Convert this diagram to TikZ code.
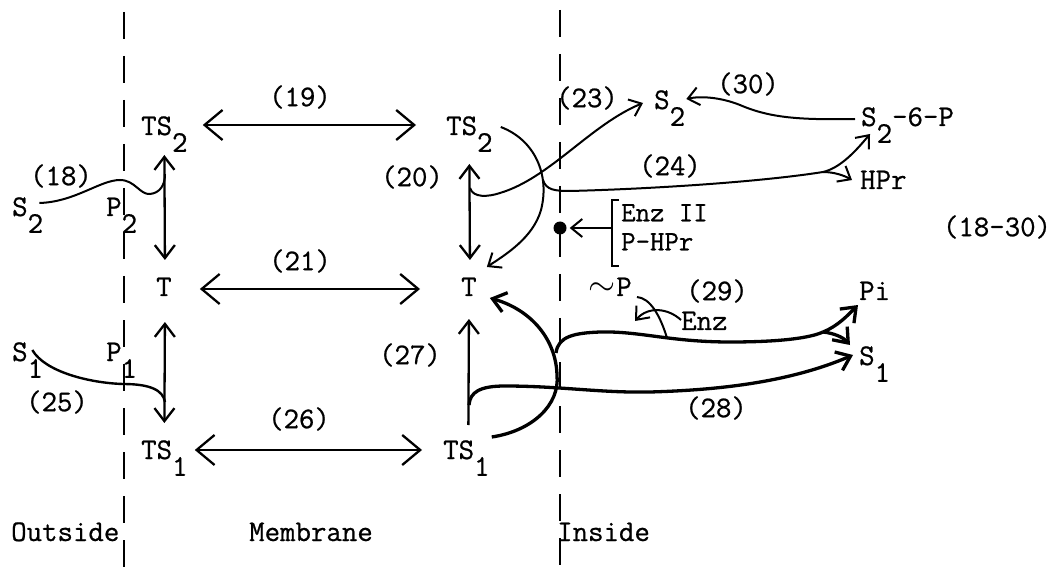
\documentclass[tikz,border=0pt]{standalone}
\usepackage{fontspec}
\setmainfont{Latin Modern Mono}[FakeBold=0.7]
\usetikzlibrary{arrows.meta}
\newcommand\dsub[1]{\raisebox{-.56em}[0pt][0pt]{#1}}
\tikzset{
  txt/.style={inner sep=0pt, anchor=base west},
  lbl/.style={inner sep=0pt},
  wall/.style={line width=1.8pt, dash pattern=on 27pt off 17pt},
  dbl/.style={{Straight Barb[length=18pt,width=30pt]}-{Straight Barb[length=18pt,width=30pt]}, line width=2.3pt},
  vdbl/.style={{Straight Barb[length=13pt,width=20pt]}-{Straight Barb[length=13pt,width=20pt]}, line width=2.3pt},
  vup/.style={-{Straight Barb[length=13pt,width=20pt]}, line width=2.3pt},
  thin/.style={line width=2pt},
  flow/.style={-{Straight Barb[length=11pt,width=18pt]}, line width=2pt},
  heavy/.style={-{Straight Barb[length=13pt,width=20pt]}, line width=3.3pt},
  dot/.style={circle, fill, inner sep=0pt, minimum size=13pt},
}

\begin{document}
\begin{tikzpicture}[x=1pt, y=-1pt, font=\fontsize{30}{34}\selectfont]
  \useasboundingbox (0,0) rectangle (1052,569);
  % membrane walls
  \draw[wall] (124,12) -- (124,569);
  \draw[wall] (560,10) -- (560,569);

  % outside
  \node[txt] (s2out) at (12,216)  {S\dsub{2}};
  \node[txt] (p2)    at (106,216) {P\dsub{2}};
  \node[txt] (s1out) at (12,361)  {S\dsub{1}};
  \node[txt] (p1)    at (106,361) {P\dsub{1}};
  % membrane
  \node[txt] (tsA) at (141,135) {TS\dsub{2}};
  \node[txt] (tsB) at (446,135) {TS\dsub{2}};
  \node[txt] (tA)  at (156,296) {T};
  \node[txt] (tB)  at (461,296) {T};
  \node[txt] (tsC) at (141,459) {TS\dsub{1}};
  \node[txt] (tsD) at (443,459) {TS\dsub{1}};
  % inside
  \node[txt] (s2in)  at (654,109) {S\dsub{2}};
  \node[txt] (s2p)   at (861,126) {S\dsub{2}-6-P};
  \node[txt] (hpr)   at (860,189) {HPr};
  \node[inner sep=0pt, anchor=north west, align=left,
        font=\fontsize{28}{29}\selectfont] (enzii) at (621,204) {Enz II\\P-HPr};
  \node[dot] (dot)   at (560,228) {};
  \node[txt] (tp)    at (588,296) {\scalebox{1.4}{$\sim$}\kern1pt P};
  \node[txt] (enz)   at (681,330) {Enz};
  \node[txt] (pi)    at (859,300) {Pi};
  \node[txt] (s1in)  at (859,365) {S\dsub{1}};

  % reaction numbers
  \node[lbl] (l18) at (61,176)  {(18)};
  \node[lbl] (l19) at (300,97)  {(19)};
  \node[lbl] (l20) at (412,177) {(20)};
  \node[lbl] (l21) at (300,261) {(21)};
  \node[lbl] (l23) at (587,98)  {(23)};
  \node[lbl] (l24) at (670,166) {(24)};
  \node[lbl] (l25) at (57,402)  {(25)};
  \node[lbl] (l26) at (299,419) {(26)};
  \node[lbl] (l27) at (410,355) {(27)};
  \node[lbl] (l28) at (716,408) {(28)};
  \node[lbl] (l29) at (717,291) {(29)};
  \node[lbl] (l30) at (748,84)  {(30)};
  \node[lbl] (lall) at (997,227) {(18-30)};
  \node[txt] (out) at (11,541)  {Outside};
  \node[txt] (mem) at (249,541) {Membrane};
  \node[txt] (ins) at (557,541) {Inside};

  % branch points
  \coordinate (j18) at (165,174);
  \coordinate (j25) at (165,402);
  \coordinate (j20) at (470,188);
  \coordinate (j27) at (469,405);
  \coordinate (j24) at (543,180);
  \coordinate (j29) at (556,353);
  \coordinate (b24) at (823,172);
  \coordinate (b29) at (823,332);
  \coordinate (k29) at (667,338);

  % carrier moves across membrane
  \draw[dbl] ([shift={(15,-10)}]tsA.base east) -- ([shift={(-30,-10)}]tsB.base west);
  \draw[dbl] ([shift={(28,-7)}]tA.base east) -- ([shift={(-41,-7)}]tB.base west);
  \draw[dbl] ([shift={(7,-9)}]tsC.base east) -- ([shift={(-21,-9)}]tsD.base west);
  \draw[vdbl] ([shift={(0,20)}]tsA.base) -- ([shift={(1,-36)}]tA.base);
  \draw[vdbl] ([shift={(0,29)}]tsB.base) -- ([shift={(1,-36)}]tB.base);
  \draw[vdbl] ([shift={(1,26)}]tA.base) -- ([shift={(0,-36)}]tsC.base);
  \draw[vup] ([shift={(2,-34)}]tsD.base) -- ([shift={(0,23)}]tB.base);

  % outside substrates
  \draw[thin] ([shift={(-4,-13)}]s2out.base east) .. controls (75,202) and (100,180) .. (120,180)
    .. controls (135,180) and (140,195) .. (150,194) .. controls (160,193) and (165,185) .. (j18);
  \draw[line width=2.4pt] ([shift={(-11,-11)}]s1out.base east) .. controls (45,372) and (90,383) .. (123,384)
    .. controls (150,384) and (163,390) .. (j25);

  % inside, sugar 2
  \draw[flow] ([shift={(8,-8)}]tsB.base east) .. controls (535,140) and (550,175) .. (541,210)
    .. controls (533,238) and (505,255) .. ([shift={(10,-29)}]tB.base east);
  \draw[flow] (j20) .. controls (473,198) and (488,197) .. (500,193)
    .. controls (550,178) and (590,125) .. ([shift={(-11,-6)}]s2in.base west);
  \draw[thin] (j24) .. controls (546,190) and (555,191) .. (570,191)
    .. controls (650,189) and (760,182) .. (b24);
  \draw[flow] (b24) .. controls (840,168) and (855,152) .. ([shift={(9,8)}]s2p.base west);
  \draw[flow] (b24) .. controls (835,172) and (845,176) .. ([shift={(-8,-9)}]hpr.base west);
  \draw[flow] ([shift={(-6,-7)}]s2p.base west) .. controls (800,120) and (770,118) .. (740,105)
    .. controls (720,97) and (700,96) .. ([shift={(1,-10)}]s2in.base east);

  % Enz II / P-HPr
  \draw[thin] ([shift={(-2,-4)}]enzii.north west) -| ([shift={(-9,15)}]enzii.south west) -- ++(7,0);
  \draw[flow, shorten >=3pt] ([shift={(-9,24)}]enzii.north west) -- (dot);

  % inside, sugar 1
  \draw[heavy] ([shift={(2,-22)}]tsD.base east) .. controls (532,431) and (560,405) .. (557,375)
    .. controls (556,340) and (532,310) .. ([shift={(13,2)}]tB.base east);
  \draw[line width=3.3pt] (j29) .. controls (558,336) and (575,333) .. (600,332)
    .. controls (640,331) and (670,342) .. (730,342) .. controls (780,342) and (810,338) .. (b29);
  \draw[heavy] (b29) .. controls (838,326) and (848,315) .. ([shift={(-1,5)}]pi.base west);
  \draw[heavy] (b29) .. controls (833,333) and (843,337) .. ([shift={(-9,-20)}]s1in.base west);
  \draw[heavy] (j27) .. controls (470,392) and (480,386) .. (505,386)
    .. controls (560,386) and (600,393) .. (650,392) .. controls (720,390) and (790,382) .. ([shift={(-6,-10)}]s1in.base west);
  \draw[thin] ([shift={(5,1)}]tp.base east) .. controls (650,298) and (660,315) .. (k29);
  \draw[flow] ([shift={(0,-10)}]enz.base west) .. controls (668,308) and (648,306) .. ([shift={(47,25)}]tp.base west);
\end{tikzpicture}
\end{document}
